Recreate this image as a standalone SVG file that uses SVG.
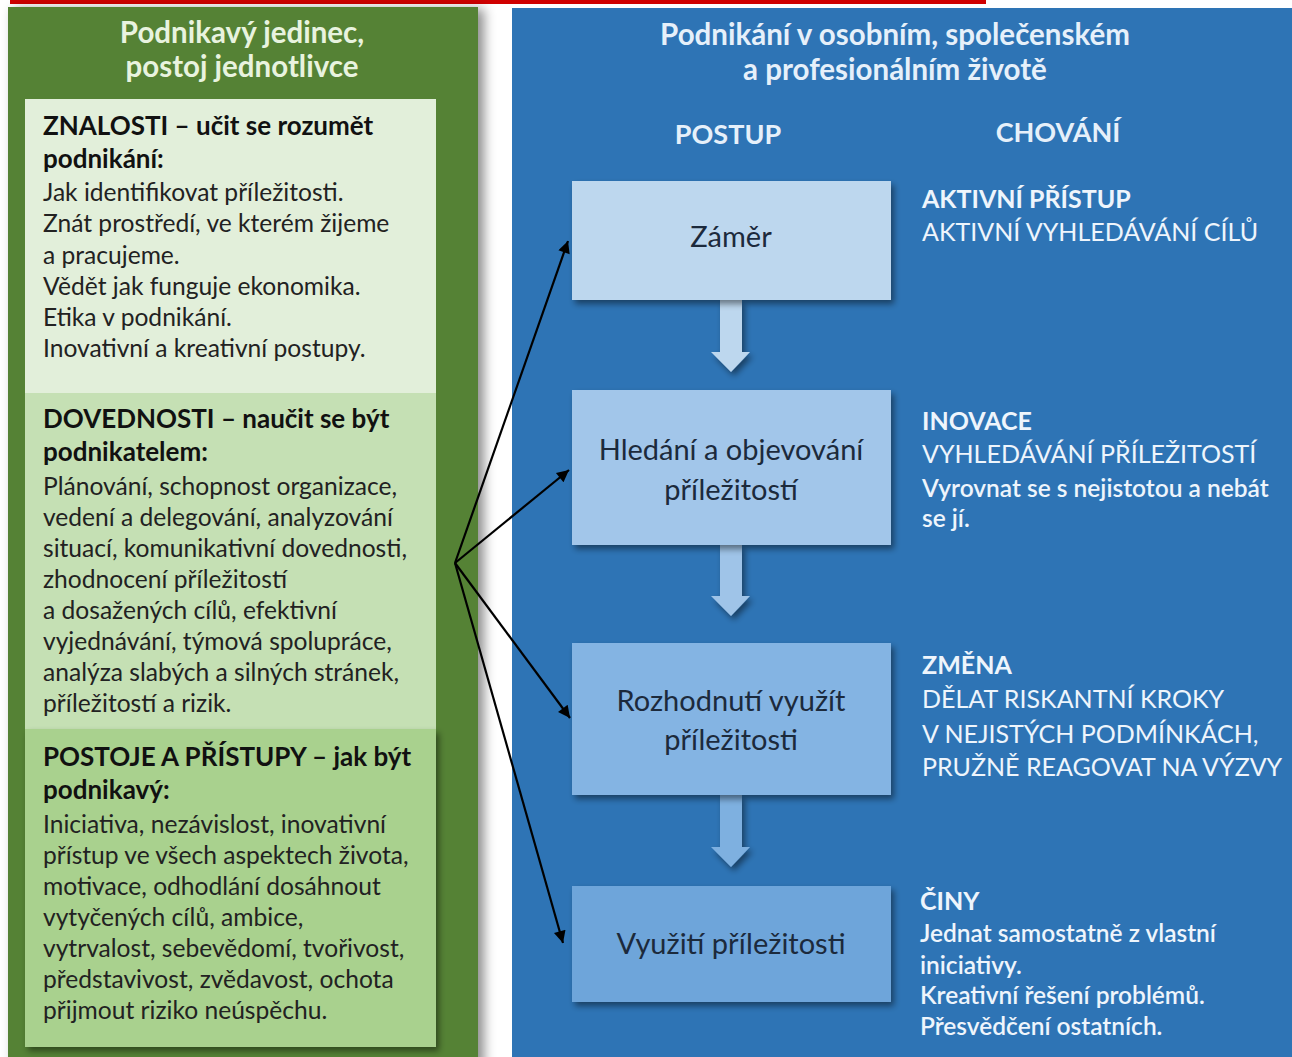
<svg xmlns="http://www.w3.org/2000/svg" width="1292" height="1057" viewBox="0 0 1292 1057">
<defs>
<filter id="sh" x="-10%" y="-10%" width="130%" height="130%">
<feDropShadow dx="3" dy="4" stdDeviation="3" flood-color="#000" flood-opacity="0.45"/>
</filter>
<filter id="psh" x="-10%" y="-5%" width="130%" height="120%">
<feDropShadow dx="6" dy="2" stdDeviation="6" flood-color="#000" flood-opacity="0.45"/>
</filter>
<marker id="ah" viewBox="0 0 10 10" refX="10" refY="5" markerWidth="16" markerHeight="12" markerUnits="userSpaceOnUse" orient="auto">
<path d="M0,0 L10,5 L0,10 z" fill="#000"/>
</marker>
<style>
text{font-family:"Lato","Open Sans","Liberation Sans",sans-serif}
.hdrg{fill:#e8f3df;font-size:29.5px;font-weight:bold;text-anchor:middle}
.hdrb{fill:#e6f0fa;font-size:29.5px;font-weight:bold;text-anchor:middle}
.col{fill:#e6f0fa;font-size:27px;font-weight:bold;text-anchor:middle}
.lh{fill:#111;font-size:26px;font-weight:bold}
.lb{fill:#222;font-size:24.6px}
.bx{font-size:29px;fill:#1c2a3c;text-anchor:middle}
.rh{fill:#eef5fc;font-size:25px;font-weight:bold}
.rc{fill:#eef5fc;font-size:25px}
.rs{fill:#eef5fc;font-size:24.5px;font-weight:600}
.con{stroke:#000;stroke-width:2.2;fill:none;marker-end:url(#ah)}
</style>
</defs>
<rect x="0" y="0" width="1292" height="1057" fill="#fff"/>
<rect x="10" y="0" width="976" height="4" fill="#d00000"/>
<g id="left-panel">
<rect x="8" y="7" width="470" height="1060" fill="#548235" filter="url(#psh)"/>
<text class="hdrg" x="242" y="43">Podnikavý jedinec,</text>
<text class="hdrg" x="242" y="77">postoj jednotlivce</text>
</g>
<g id="right-panel">
<rect x="512" y="8" width="790" height="1060" fill="#2e74b5"/>
<text class="hdrb" x="895" y="45">Podnikání v osobním, společenském</text>
<text class="hdrb" x="895" y="80">a profesionálním životě</text>
<text class="col" x="728" y="144">POSTUP</text>
<text class="col" x="1058" y="142">CHOVÁNÍ</text>
</g>
<g id="znalosti">
<rect x="25" y="99" width="411" height="294" fill="#e2efda"/>
<text class="lh" x="43" y="135">ZNALOSTI – učit se rozumět</text>
<text class="lh" x="43" y="168">podnikání:</text>
<text class="lb" x="43" y="201">Jak identifikovat příležitosti.</text>
<text class="lb" x="43" y="232">Znát prostředí, ve kterém žijeme</text>
<text class="lb" x="43" y="264">a pracujeme.</text>
<text class="lb" x="43" y="295">Vědět jak funguje ekonomika.</text>
<text class="lb" x="43" y="326">Etika v podnikání.</text>
<text class="lb" x="43" y="357">Inovativní a kreativní postupy.</text>
</g>
<g id="dovednosti">
<rect x="25" y="393" width="411" height="336" fill="#c5e0b4"/>
<text class="lh" x="43" y="428">DOVEDNOSTI – naučit se být</text>
<text class="lh" x="43" y="461">podnikatelem:</text>
<text class="lb" x="43" y="495">Plánování, schopnost organizace,</text>
<text class="lb" x="43" y="526">vedení a delegování, analyzování</text>
<text class="lb" x="43" y="557">situací, komunikativní dovednosti,</text>
<text class="lb" x="43" y="588">zhodnocení příležitostí</text>
<text class="lb" x="43" y="619">a dosažených cílů, efektivní</text>
<text class="lb" x="43" y="650">vyjednávání, týmová spolupráce,</text>
<text class="lb" x="43" y="681">analýza slabých a silných stránek,</text>
<text class="lb" x="43" y="712">příležitostí a rizik.</text>
</g>
<g id="postoje">
<rect x="25" y="729" width="411" height="318" fill="#a9d18e" filter="url(#sh)"/>
<text class="lh" x="43" y="766">POSTOJE A PŘÍSTUPY – jak být</text>
<text class="lh" x="43" y="799">podnikavý:</text>
<text class="lb" x="43" y="833">Iniciativa, nezávislost, inovativní</text>
<text class="lb" x="43" y="864">přístup ve všech aspektech života,</text>
<text class="lb" x="43" y="895">motivace, odhodlání dosáhnout</text>
<text class="lb" x="43" y="926">vytyčených cílů, ambice,</text>
<text class="lb" x="43" y="957">vytrvalost, sebevědomí, tvořivost,</text>
<text class="lb" x="43" y="988">představivost, zvědavost, ochota</text>
<text class="lb" x="43" y="1019">přijmout riziko neúspěchu.</text>
</g>
<g id="flow-arrows">
<path d="M720,300 H742 V352 H750 L731,372 L711,352 H720 Z" fill="#bdd7ee" filter="url(#sh)"/>
<path d="M720,545 H742 V596 H750 L731,616 L711,596 H720 Z" fill="#9fc4e8" filter="url(#sh)"/>
<path d="M720,795 H742 V847 H750 L731,867 L711,847 H720 Z" fill="#7eb0e0" filter="url(#sh)"/>
</g>
<g id="zamer">
<rect x="572" y="181" width="319" height="119" fill="#bdd7ee" filter="url(#sh)"/>
<text class="bx" x="731" y="247">Záměr</text>
</g>
<g id="hledani">
<rect x="572" y="390" width="319" height="155" fill="#a2c6ea" filter="url(#sh)"/>
<text class="bx" x="731" y="460">Hledání a objevování</text>
<text class="bx" x="731" y="500">příležitostí</text>
</g>
<g id="rozhodnuti">
<rect x="572" y="643" width="319" height="152" fill="#84b4e3" filter="url(#sh)"/>
<text class="bx" x="731" y="711">Rozhodnutí využít</text>
<text class="bx" x="731" y="750">příležitosti</text>
</g>
<g id="vyuziti">
<rect x="572" y="886" width="319" height="116" fill="#6ea5da" filter="url(#sh)"/>
<text class="bx" x="731" y="954">Využití příležitosti</text>
</g>
<g id="chovani-1">
<text class="rh" x="922" y="208">AKTIVNÍ PŘÍSTUP</text>
<text class="rc" x="922" y="241">AKTIVNÍ VYHLEDÁVÁNÍ CÍLŮ</text>
</g>
<g id="chovani-2">
<text class="rh" x="922" y="430">INOVACE</text>
<text class="rc" x="922" y="463">VYHLEDÁVÁNÍ PŘÍLEŽITOSTÍ</text>
<text class="rs" x="922" y="497">Vyrovnat se s nejistotou a nebát</text>
<text class="rs" x="922" y="527">se jí.</text>
</g>
<g id="chovani-3">
<text class="rh" x="922" y="674">ZMĚNA</text>
<text class="rc" x="922" y="708">DĚLAT RISKANTNÍ KROKY</text>
<text class="rc" x="922" y="743">V NEJISTÝCH PODMÍNKÁCH,</text>
<text class="rc" x="922" y="776">PRUŽNĚ REAGOVAT NA VÝZVY</text>
</g>
<g id="chovani-4">
<text class="rh" x="920" y="910">ČINY</text>
<text class="rs" x="920" y="942">Jednat samostatně z vlastní</text>
<text class="rs" x="920" y="974">iniciativy.</text>
<text class="rs" x="920" y="1004">Kreativní řešení problémů.</text>
<text class="rs" x="920" y="1035">Přesvědčení ostatních.</text>
</g>
<g id="connectors">
<line class="con" x1="455" y1="563" x2="568" y2="241"/>
<line class="con" x1="455" y1="563" x2="569" y2="470"/>
<line class="con" x1="455" y1="563" x2="570" y2="718"/>
<line class="con" x1="455" y1="563" x2="563" y2="943"/>
</g>
</svg>
